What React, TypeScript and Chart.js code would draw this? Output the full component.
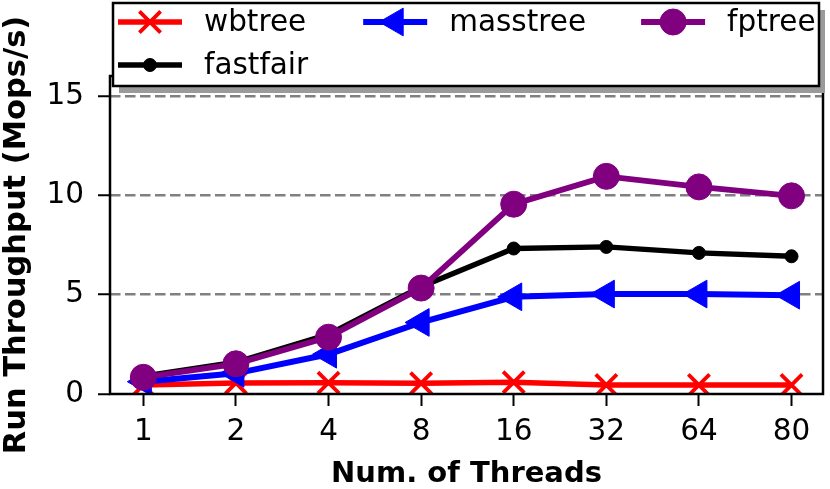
import React, { useRef, useEffect } from 'react';
import { Chart, registerables } from 'chart.js';
import { drawPoint } from 'chart.js/helpers';

Chart.register(...registerables);

const threads = ['1', '2', '4', '8', '16', '32', '64', '80'];
const yTicks = [0, 5, 10, 15];
const wbtree = [0.45, 0.55, 0.57, 0.54, 0.59, 0.45, 0.45, 0.45];
const fastfair = [0.9, 1.6, 3.0, 5.4, 7.32, 7.4, 7.1, 6.93];
const masstree = [0.62, 1.04, 2.0, 3.6, 4.89, 5.03, 5.03, 4.97];
const fptree = [0.84, 1.52, 2.86, 5.33, 9.55, 10.95, 10.42, 9.97];

const FONT = 'DejaVu Sans';
const FS = 29.5;
const W = 830;
const H = 489;

const toXY = (vals: number[]) => vals.map((y, i) => ({ x: i, y }));

// matplotlib style frame round the plot area
const framePlugin = {
  id: 'frame',
  afterDatasetsDraw(chart: any) {
    const { ctx, chartArea: a } = chart;
    ctx.save();
    ctx.strokeStyle = '#000';
    ctx.lineWidth = 2.5;
    ctx.strokeRect(a.left, a.top, a.right - a.left, a.bottom - a.top);
    ctx.restore();
  },
};

// legend laid out column by column, 3 columns, with a drop shadow
const legendPlugin = {
  id: 'boxLegend',
  afterDraw(chart: any) {
    const { ctx, chartArea: a } = chart;
    const x0 = a.left + 3;
    const x1 = a.right - 4;
    const y0 = 3;
    const y1 = 86;
    const rows = [22, 65];
    const handleLen = 64;
    const handleGap = 22;
    const colSpacing = 55;
    ctx.save();
    ctx.fillStyle = '#9a9a9a';
    ctx.fillRect(x0 + 6, y0 + 7, x1 - x0, y1 - y0);
    ctx.fillStyle = '#fff';
    ctx.fillRect(x0, y0, x1 - x0, y1 - y0);
    ctx.strokeStyle = '#000';
    ctx.lineWidth = 2.5;
    ctx.strokeRect(x0, y0, x1 - x0, y1 - y0);

    ctx.font = `${FS}px "${FONT}"`;
    const ds = chart.data.datasets;
    // column-major: wbtree, fastfair | masstree | fptree
    const cols = [[0, 1], [2], [3]];
    let cx = x0 + 5;
    cols.forEach((col) => {
      let maxW = 0;
      col.forEach((di, r) => {
        const d = ds[di];
        const y = rows[r];
        ctx.strokeStyle = d.borderColor;
        ctx.lineWidth = d.borderWidth;
        ctx.beginPath();
        ctx.moveTo(cx, y);
        ctx.lineTo(cx + handleLen, y);
        ctx.stroke();
        ctx.fillStyle = d.pointBackgroundColor;
        ctx.strokeStyle = d.pointBorderColor;
        ctx.lineWidth = d.pointBorderWidth;
        drawPoint(ctx, {
          pointStyle: d.pointStyle,
          radius: d.pointRadius,
          rotation: d.pointRotation || 0,
          borderWidth: d.pointBorderWidth,
        }, cx + handleLen / 2, y);
        ctx.fillStyle = '#000';
        ctx.textAlign = 'left';
        ctx.textBaseline = 'middle';
        ctx.fillText(d.label, cx + handleLen + handleGap, y + 1);
        maxW = Math.max(maxW, ctx.measureText(d.label).width);
      });
      cx += handleLen + handleGap + maxW + colSpacing;
    });
    ctx.restore();
  },
};

const App: React.FC = () => {
  const canvasRef = useRef<HTMLCanvasElement | null>(null);

  useEffect(() => {
    document.documentElement.style.overflow = 'hidden';
    document.body.style.margin = '0';
    if (!canvasRef.current) return;
    const chart = new Chart(canvasRef.current, {
      type: 'line',
      data: {
        datasets: [
          {
            label: 'wbtree',
            data: toXY(wbtree),
            borderColor: '#ff0000',
            borderWidth: 5.5,
            pointStyle: 'crossRot',
            pointRadius: 15,
            pointBorderWidth: 3.8,
            pointBorderColor: '#ff0000',
            pointBackgroundColor: '#ff0000',
            order: 3,
          },
          {
            label: 'fastfair',
            data: toXY(fastfair),
            borderColor: '#000000',
            borderWidth: 5.3,
            pointStyle: 'circle',
            pointRadius: 6.5,
            pointBorderWidth: 1,
            pointBorderColor: '#000000',
            pointBackgroundColor: '#000000',
            order: 2,
          },
          {
            label: 'masstree',
            data: toXY(masstree),
            borderColor: '#0000ff',
            borderWidth: 6,
            pointStyle: 'triangle',
            pointRotation: -90,
            pointRadius: 16,
            pointBorderWidth: 1,
            pointBorderColor: '#0000ff',
            pointBackgroundColor: '#0000ff',
            order: 1,
          },
          {
            label: 'fptree',
            data: toXY(fptree),
            borderColor: '#800080',
            borderWidth: 5.8,
            pointStyle: 'circle',
            pointRadius: 13,
            pointBorderWidth: 1,
            pointBorderColor: '#800080',
            pointBackgroundColor: '#800080',
            order: 0,
          },
        ] as any,
      },
      options: {
        responsive: false,
        animation: false,
        devicePixelRatio: 1,
        layout: { autoPadding: false, padding: { top: 76, right: 7, left: 0, bottom: 0 } },
        plugins: {
          legend: { display: false },
          tooltip: { enabled: false },
        },
        scales: {
          x: {
            type: 'linear',
            min: -0.36,
            max: 7.34,
            afterBuildTicks: (scale: any) => {
              scale.ticks = threads.map((_, i) => ({ value: i }));
            },
            afterFit: (scale: any) => {
              scale.height = 95;
              scale.paddingLeft = 0;
              scale.paddingRight = 0;
            },
            ticks: {
              color: '#000',
              font: { family: FONT, size: FS },
              padding: 9,
              maxRotation: 0,
              autoSkip: false,
              callback: (v: any) => threads[v],
            },
            grid: {
              drawOnChartArea: false,
              tickLength: 12,
              tickColor: '#000',
              tickWidth: 2,
            },
            border: { display: false },
            title: {
              display: true,
              text: 'Num. of Threads',
              color: '#000',
              font: { family: FONT, size: 29, weight: 'bold', lineHeight: 1 },
              padding: 0,
            },
          },
          y: {
            min: 0,
            max: 16,
            afterBuildTicks: (scale: any) => {
              scale.ticks = yTicks.map((v) => ({ value: v }));
            },
            afterFit: (scale: any) => {
              scale.width = 110;
            },
            ticks: {
              color: '#000',
              font: { family: FONT, size: FS },
              padding: 14,
            },
            grid: {
              color: (c: any) => (c.tick && c.tick.value === 0 ? 'rgba(0,0,0,0)' : '#808080'),
              lineWidth: 2.5,
              tickLength: 12,
              tickColor: '#000',
              tickWidth: 2,
              tickBorderDash: [],
            },
            border: { display: false, dash: [10.5, 4.5] },
            title: {
              display: true,
              text: 'Run Throughput (Mops/s)',
              color: '#000',
              font: { family: FONT, size: 30.5, weight: 'bold', lineHeight: 1 },
              padding: { top: 2, bottom: 0 },
            },
          },
        },
      },
      plugins: [framePlugin, legendPlugin],
    });
    return () => {
      chart.destroy();
    };
  }, []);

  return (
    <div style={{ width: W, height: H }}>
      <canvas ref={canvasRef} width={W} height={H} style={{ display: 'block' }} />
    </div>
  );
};

export default App;
